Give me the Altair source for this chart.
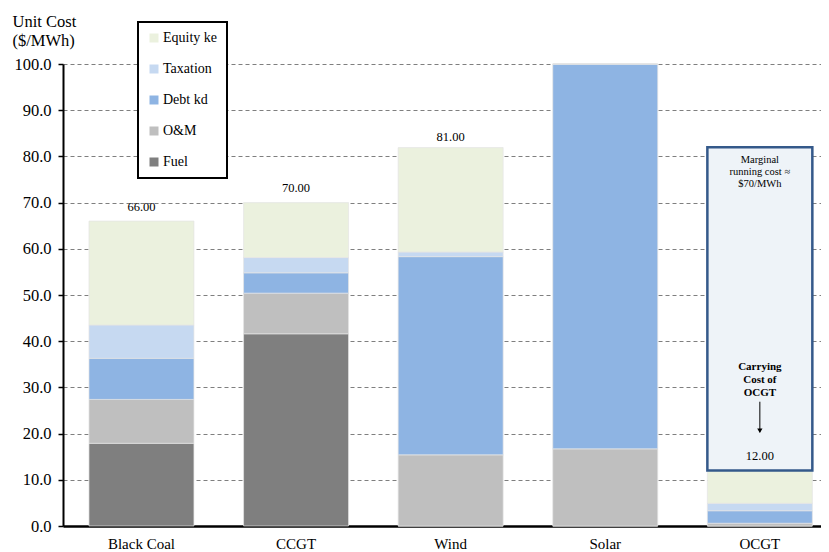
import altair as alt
import pandas as pd

FONT = "Liberation Serif"

categories = ["Black Coal", "CCGT", "Wind", "Solar", "OCGT"]
components = ["Fuel", "O&M", "Debt kd", "Taxation", "Equity ke"]
fuel = [17.9, 41.6, 0.0, 0.0, 0.0]
om = [9.5, 8.8, 15.4, 16.7, 0.6]
debt_kd = [8.9, 4.4, 42.9, 83.3, 2.7]
taxation = [7.2, 3.3, 1.0, 0.0, 1.6]
equity_ke = [22.5, 11.9, 22.6, 0.0, 7.1]

label_categories = ["Black Coal", "CCGT", "Wind", "OCGT"]
label_values = [66.0, 70.0, 81.0, 12.0]
label_texts = ["66.00", "70.00", "81.00", "12.00"]

legend_order = ["Equity ke", "Taxation", "Debt kd", "O&M", "Fuel"]
colors = ["#EBF1DE", "#C6D9F1", "#8EB4E3", "#BFBFBF", "#7F7F7F"]
y_ticks = [0, 10, 20, 30, 40, 50, 60, 70, 80, 90, 100]

note_category = ["OCGT"]
box_low = [12.0]
box_high = [82.0]
marginal_text = ["Marginal\nrunning cost ≈\n$70/MWh"]
marginal_y = [79.2]
carry_text = ["Carrying\nCost of\nOCGT"]
carry_y = [34.5]
arrow_start = [26.9]
arrow_end = [20.3]
arrow_head = [20.6]

series = [fuel, om, debt_kd, taxation, equity_ke]
rows = []
for ci, comp in enumerate(components):
    for k, cat in enumerate(categories):
        rows.append({"category": cat, "component": comp, "y": series[ci][k], "order": ci})
df = pd.DataFrame(rows)

labels_df = pd.DataFrame({"category": label_categories, "y": label_values, "text": label_texts})
box_df = pd.DataFrame({"category": note_category, "y": box_low, "y2": box_high})
marg_df = pd.DataFrame({"category": note_category, "y": marginal_y, "text": marginal_text})
carry_df = pd.DataFrame({"category": note_category, "y": carry_y, "text": carry_text})
arrow_df = pd.DataFrame({"category": note_category, "y": arrow_start, "y2": arrow_end, "head": arrow_head})

x_axis = alt.Axis(title=None, labelAngle=0, ticks=False, domainColor="black", domainWidth=2.5,
                  labelFont=FONT, labelFontSize=15, labelColor="black", labelPadding=10)
x_scale = alt.Scale(paddingInner=0.321, paddingOuter=0.112, align=0.75)
y_axis = alt.Axis(values=y_ticks, format=".1f", title=["Unit Cost", "($/MWh)"], titleAngle=0,
                  titleAlign="left", titleBaseline="alphabetic", titleX=-51, titleY=-38,
                  titleFont=FONT, titleFontSize=16.5, titleFontWeight="normal", titleColor="black",
                  titleLineHeight=19, labelFont=FONT, labelFontSize=16.5, labelColor="black",
                  labelPadding=7, tickSize=5, tickColor="black", tickWidth=1.5,
                  domainColor="black", domainWidth=2, gridColor="#7f7f7f", gridDash=[4, 3], gridWidth=1)
y_scale = alt.Scale(domain=[0, 100], nice=False)


def X():
    return alt.X("category:N", sort=categories, scale=x_scale, axis=x_axis)


def Y(field="y", **kw):
    return alt.Y(field + ":Q", scale=y_scale, axis=y_axis, **kw)


bars = alt.Chart(df).mark_bar(stroke="#E4E4E4", strokeWidth=0.7).encode(
    x=X(),
    y=Y(stack="zero"),
    color=alt.Color("component:N", scale=alt.Scale(domain=legend_order, range=colors),
                    legend=alt.Legend(title=None, orient="none", legendX=75, legendY=-42,
                                      symbolType="square", symbolSize=81, symbolStrokeWidth=0,
                                      labelFont=FONT, labelFontSize=14, labelColor="black",
                                      rowPadding=17, padding=9, fillColor="white",
                                      strokeColor="black", labelOffset=2)),
    order=alt.Order("order:Q", sort="ascending"),
)

box = alt.Chart(box_df).mark_bar(fill="#EEF3F8", stroke="#34598A", strokeWidth=2.5).encode(
    x=X(), y=Y(), y2="y2:Q"
)

labels = alt.Chart(labels_df).mark_text(font=FONT, fontSize=12.5, baseline="middle", dy=-14.5,
                                        color="black").encode(x=X(), y=Y(), text="text:N")

marg = alt.Chart(marg_df).mark_text(font=FONT, fontSize=10.5, baseline="middle", lineBreak="\n",
                                    lineHeight=12, color="black").encode(x=X(), y=Y(), text="text:N")

carry = alt.Chart(carry_df).mark_text(font=FONT, fontSize=11, fontWeight="bold", baseline="middle",
                                      lineBreak="\n", lineHeight=13, color="black").encode(
    x=X(), y=Y(), text="text:N")

arrow = alt.Chart(arrow_df).mark_rule(color="black", strokeWidth=1).encode(x=X(), y=Y(), y2="y2:Q")
head = alt.Chart(arrow_df).mark_point(shape="triangle-down", filled=True, size=28, color="black",
                                      opacity=1).encode(x=X(), y=Y("head"))

chart = alt.layer(bars, box, labels, marg, carry, arrow, head).properties(
    width=758, height=462,
    autosize=alt.AutoSizeParams(type="none"),
    padding={"left": 55, "top": 56, "right": 0, "bottom": 24},
).configure(font=FONT).configure_view(strokeWidth=0).configure_legend(strokeWidth=2)

chart.save("out.html", embed_options={"renderer": "svg", "actions": False})
